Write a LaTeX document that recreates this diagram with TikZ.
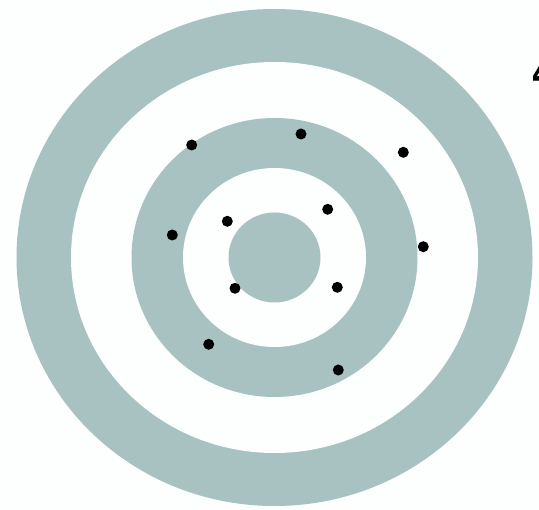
\documentclass[tikz,border=0pt]{standalone}
\usepackage{fontspec}
\newfontfamily\heros{TeX Gyre Heros}
\definecolor{ringgray}{HTML}{A8C2C2}
\definecolor{paper}{HTML}{FDFEFE}
\begin{document}
\begin{tikzpicture}[x=1pt,y=-1pt,
  dot/.style={circle,fill=black,inner sep=0pt,minimum size=11pt},
  ring/.style={fill=ringgray,draw=none},
  gap/.style={fill=paper,draw=none}]
\useasboundingbox (0,0) rectangle (539,510);
\fill[paper] (0,0) rectangle (539,510);
\coordinate (c) at (274.5,257.5);
\fill[ring] (c) ellipse [x radius=258pt, y radius=248.5pt];
\fill[gap]  (c) ellipse [x radius=203.5pt, y radius=195.5pt];
\fill[ring] (c) ellipse [x radius=143pt, y radius=139.5pt];
\fill[gap]  (c) ellipse [x radius=91.5pt, y radius=89.5pt];
\fill[ring] (c) ellipse [x radius=46pt, y radius=45pt];
\node[dot] (d1) at (191.7,145) {};
\node[dot] (d2) at (301,134) {};
\node[dot] (d3) at (403.3,152.3) {};
\node[dot] (d4) at (327.7,209.3) {};
\node[dot] (d5) at (227.3,221.3) {};
\node[dot] (d6) at (172.3,235) {};
\node[dot] (d7) at (423.3,246.7) {};
\node[dot] (d8) at (235,288.3) {};
\node[dot] (d9) at (337.3,287.3) {};
\node[dot] (d10) at (208.7,344.3) {};
\node[dot] (d11) at (338.3,370) {};
\node[anchor=base west,inner sep=0pt,font=\heros\bfseries\fontsize{40}{40}\selectfont] (lbl) at (532,88) {4};
\end{tikzpicture}
\end{document}
